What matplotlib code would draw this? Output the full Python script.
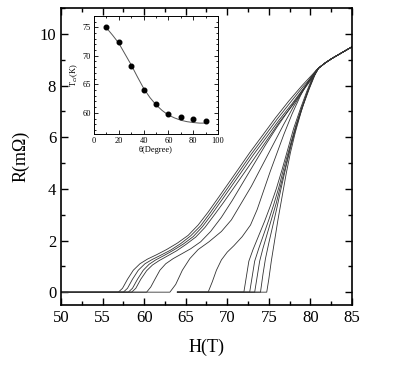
import matplotlib.pyplot as plt
from matplotlib.ticker import MultipleLocator

plt.rcParams['font.family'] = ['Liberation Serif', 'DejaVu Serif']

# R(H) curves for the different angles (field in T, resistance in mOhm)
h_a1 = [50, 56.9, 57.4, 58.0, 58.7, 59.5, 60.4, 61.5, 62.7, 64.0, 65.3, 66.5, 67.7, 68.8, 70.0, 71.3, 72.7, 74.2, 75.8, 77.4, 79.0, 80.3, 81.0]
r_a1 = [0, 0, 0.15, 0.5, 0.85, 1.1, 1.28, 1.45, 1.65, 1.9, 2.2, 2.6, 3.1, 3.6, 4.15, 4.75, 5.4, 6.05, 6.75, 7.4, 8.0, 8.45, 8.68]
h_a2 = [50, 57.5, 58.0, 58.6, 59.3, 60.1, 61.0, 62.0, 63.2, 64.4, 65.6, 66.8, 67.9, 69.0, 70.2, 71.5, 72.9, 74.4, 76.0, 77.6, 79.1, 80.4, 81.0]
r_a2 = [0, 0, 0.15, 0.5, 0.85, 1.1, 1.27, 1.43, 1.63, 1.88, 2.18, 2.57, 3.05, 3.55, 4.1, 4.7, 5.35, 6.0, 6.7, 7.35, 7.95, 8.42, 8.68]
h_a3 = [50, 58.1, 58.6, 59.2, 59.9, 60.6, 61.4, 62.4, 63.5, 64.7, 65.9, 67.0, 68.1, 69.2, 70.4, 71.7, 73.1, 74.6, 76.2, 77.8, 79.2, 80.5, 81.0]
r_a3 = [0, 0, 0.15, 0.5, 0.85, 1.08, 1.25, 1.42, 1.62, 1.86, 2.15, 2.53, 3.0, 3.5, 4.05, 4.65, 5.3, 5.95, 6.65, 7.3, 7.9, 8.42, 8.68]
h_a4 = [50, 58.5, 59.0, 59.6, 60.3, 61.0, 61.8, 62.8, 63.9, 65.0, 66.2, 67.3, 68.4, 69.5, 70.7, 72.0, 73.4, 74.8, 76.3, 77.9, 79.3, 80.5, 81.0]
r_a4 = [0, 0, 0.15, 0.5, 0.83, 1.05, 1.22, 1.4, 1.6, 1.84, 2.13, 2.5, 2.97, 3.45, 4.0, 4.6, 5.25, 5.9, 6.6, 7.25, 7.88, 8.4, 8.68]
h_a5 = [50, 60.3, 60.8, 61.3, 61.9, 62.6, 63.5, 64.5, 65.6, 66.8, 68.0, 69.3, 70.6, 71.9, 73.2, 74.6, 76.0, 77.5, 78.9, 80.1, 80.9]
r_a5 = [0, 0, 0.2, 0.5, 0.85, 1.1, 1.3, 1.48, 1.68, 1.95, 2.35, 2.9, 3.55, 4.25, 4.95, 5.7, 6.4, 7.1, 7.75, 8.3, 8.65]
h_b1 = [50, 63.1, 63.8, 64.6, 65.5, 66.5, 67.8, 69.3, 70.5, 71.7, 72.9, 74.2, 75.5, 76.8, 78.0, 79.2, 80.2, 80.9]
r_b1 = [0, 0, 0.3, 0.85, 1.3, 1.65, 1.95, 2.35, 2.8, 3.45, 4.1, 4.9, 5.7, 6.5, 7.2, 7.85, 8.35, 8.65]
h_b2 = [64.0, 67.7, 68.2, 68.7, 69.3, 70.0, 70.8, 71.8, 72.8, 73.6, 74.4, 75.2, 76.0, 76.8, 77.8, 78.8, 79.8, 80.7]
r_b2 = [0, 0, 0.4, 0.85, 1.25, 1.55, 1.8, 2.15, 2.6, 3.2, 3.95, 4.7, 5.4, 6.1, 6.9, 7.6, 8.2, 8.6]
h_c1 = [64.0, 72.0, 72.3, 72.6, 73.1, 73.8, 74.5, 75.2, 75.9, 76.6, 77.3, 78.0, 78.8, 79.6, 80.3, 80.9]
r_c1 = [0, 0, 0.6, 1.2, 1.65, 2.2, 2.75, 3.35, 4.0, 4.75, 5.55, 6.35, 7.1, 7.8, 8.35, 8.65]
h_c2 = [64.0, 72.7, 73.0, 73.3, 73.8, 74.4, 75.0, 75.6, 76.2, 76.8, 77.5, 78.2, 78.9, 79.7, 80.4, 80.9]
r_c2 = [0, 0, 0.6, 1.2, 1.7, 2.25, 2.8, 3.4, 4.05, 4.8, 5.6, 6.4, 7.1, 7.8, 8.35, 8.65]
h_c3 = [64.0, 73.3, 73.6, 73.9, 74.3, 74.8, 75.3, 75.9, 76.4, 77.0, 77.6, 78.3, 79.0, 79.8, 80.5, 81.0]
r_c3 = [0, 0, 0.6, 1.2, 1.7, 2.25, 2.8, 3.45, 4.1, 4.85, 5.65, 6.45, 7.15, 7.85, 8.4, 8.68]
h_c4 = [64.0, 74.0, 74.3, 74.6, 75.0, 75.5, 76.0, 76.5, 77.1, 77.7, 78.4, 79.1, 79.9, 80.6, 81.0]
r_c4 = [0, 0, 0.7, 1.3, 1.9, 2.6, 3.3, 4.05, 4.9, 5.7, 6.5, 7.2, 7.9, 8.45, 8.68]
h_c5 = [64.0, 74.75, 75.0, 75.3, 75.7, 76.1, 76.6, 77.1, 77.6, 78.2, 78.9, 79.6, 80.3, 81.0]
r_c5 = [0, 0, 0.5, 1.2, 2.0, 2.8, 3.7, 4.6, 5.4, 6.2, 7.0, 7.7, 8.3, 8.68]

# common normal-state part above ~81 T
tail_h = [81.8, 82.6, 83.4, 84.2, 85.0]
tail_r = [8.88, 9.05, 9.2, 9.35, 9.5]

curves = [(h_a1, r_a1), (h_a2, r_a2), (h_a3, r_a3), (h_a4, r_a4), (h_a5, r_a5),
          (h_b1, r_b1), (h_b2, r_b2),
          (h_c1, r_c1), (h_c2, r_c2), (h_c3, r_c3), (h_c4, r_c4), (h_c5, r_c5)]

# inset: Tc vs angle
theta = [10, 20, 30, 40, 50, 60, 70, 80, 90]
tc = [75.0, 72.5, 68.2, 64.0, 61.6, 59.8, 59.25, 58.9, 58.65]
theta_fit = [10, 15, 20, 25, 30, 35, 40, 45, 50, 55, 60, 65, 70, 75, 80, 85, 90]
tc_fit = [74.9, 73.6, 72.2, 70.3, 68.4, 66.3, 64.3, 62.7, 61.4, 60.4, 59.6, 59.1, 58.7, 58.45, 58.3, 58.2, 58.2]

fig = plt.figure(figsize=(4.15, 3.68), dpi=100)
ax = fig.add_axes([0.147, 0.171, 0.701, 0.807])

for h, r in curves:
    ax.plot(h + tail_h, r + tail_r, color='#333333', lw=0.6)

ax.set_xlim(50, 85)
ax.set_ylim(-0.5, 11)
ax.xaxis.set_major_locator(MultipleLocator(5))
ax.xaxis.set_minor_locator(MultipleLocator(2.5))
ax.yaxis.set_major_locator(MultipleLocator(2))
ax.yaxis.set_minor_locator(MultipleLocator(1))
ax.tick_params(which='both', direction='in', top=True, right=True, labelsize=12, width=1)
ax.tick_params(which='major', length=5)
ax.tick_params(which='minor', length=3)
for s in ax.spines.values():
    s.set_linewidth(1.2)
ax.set_xlabel('H(T)', fontsize=13, labelpad=9)
ax.set_ylabel('R(m\u03a9)', fontsize=13, labelpad=7)

ins = fig.add_axes([0.2265, 0.636, 0.299, 0.321])
ins.plot(theta_fit, tc_fit, color='#555555', lw=0.7)
ins.plot(theta, tc, 'o', color='black', ms=3.3)
ins.set_xlim(0, 100)
ins.set_ylim(56.3, 77)
ins.xaxis.set_major_locator(MultipleLocator(20))
ins.xaxis.set_minor_locator(MultipleLocator(10))
ins.yaxis.set_major_locator(MultipleLocator(5))
ins.yaxis.set_minor_locator(MultipleLocator(1))
ins.tick_params(which='both', direction='in', top=True, right=True, labelsize=6, width=0.6, pad=2)
ins.tick_params(which='major', length=3)
ins.tick_params(which='minor', length=1.5)
for s in ins.spines.values():
    s.set_linewidth(0.7)
ins.set_xlabel('\u03b8(Degree)', fontsize=6, labelpad=1)
ins.set_ylabel('T$_{ci}$(K)', fontsize=6, labelpad=2)

plt.savefig('out.png', dpi=100)
